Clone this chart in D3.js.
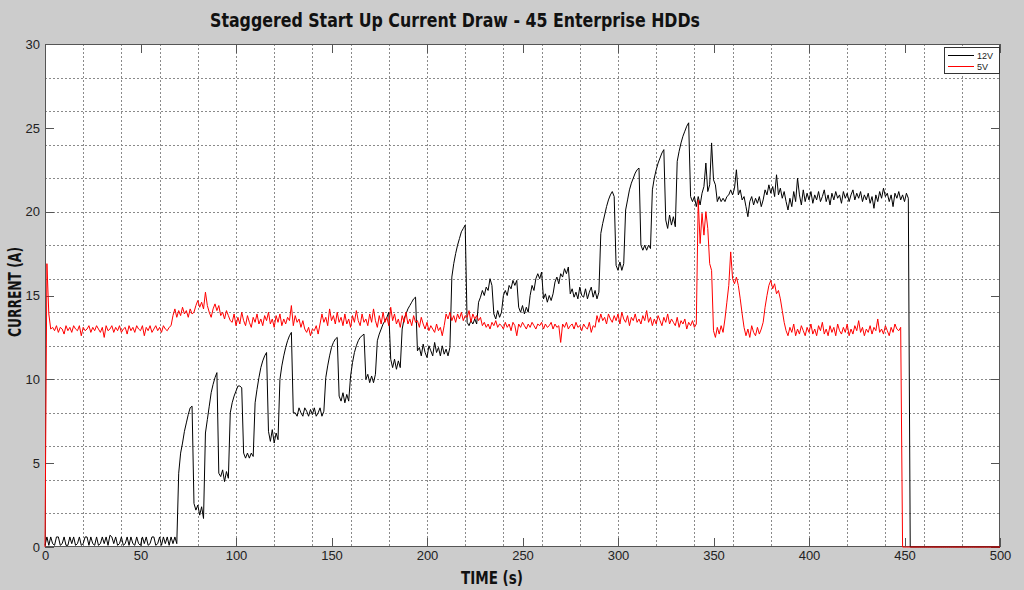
<!DOCTYPE html>
<html><head><meta charset="utf-8">
<script src="https://cdn.jsdelivr.net/npm/d3@7"></script>
<style>body{margin:0;background:#cccccc;} svg{display:block}</style>
</head><body><svg id="c" width="1024" height="590"></svg>
<script>
// ---------------- DATA ----------------
const chartTitle = "Staggered Start Up Current Draw - 45 Enterprise HDDs";
const xLabel = "TIME (s)";
const yLabel = "CURRENT (A)";
const xTickValues = [0,50,100,150,200,250,300,350,400,450,500];
const yTickValues = [0,5,10,15,20,25,30];
const seriesNames = ["12V","5V"];
const sampleStepSeconds = 1; // one reading per second, index = time (s)

// 12V rail current (A), t = 0..500 s
const current12V = [
// 0-69
0.1,0.6,0.1,0.6,0.2,0.1,0.6,0.6,0.1,0.2,
0.6,0.1,0.1,0.6,0.2,0.6,0.1,0.2,0.6,0.1,
0.2,0.6,0.6,0.1,0.6,0.2,0.1,0.6,0.1,0.2,
0.6,0.2,0.6,0.1,0.7,0.6,0.2,0.6,0.1,0.2,
0.6,0.1,0.2,0.6,0.1,0.6,0.2,0.1,0.6,0.2,
0.1,0.6,0.2,0.6,0.1,0.2,0.6,0.6,0.1,0.2,
0.6,0.1,0.6,0.2,0.6,0.1,0.6,0.2,0.6,0.2,
// 70-
4.4,5.6,6.2,6.9,7.4,7.9,8.3,8.4,2.6,2.2,
2.5,1.9,2.4,1.7,6.8,7.6,8.4,9.2,9.7,10.1,
10.4,4.4,4.2,4.6,3.9,4.5,4.1,8.0,8.6,9.0,
9.3,9.6,9.6,9.5,5.6,5.3,5.6,5.3,5.6,5.4,
8.6,9.4,10.1,10.7,11.1,11.4,11.6,6.9,6.3,7.0,
6.2,6.8,6.4,10.0,10.8,11.4,11.9,12.3,12.6,12.8,
8.0,8.0,7.8,8.3,8.0,7.8,8.3,8.1,7.8,8.2,
7.9,8.3,7.8,8.0,8.3,7.8,8.1,10.1,10.8,11.4,
11.9,12.2,12.4,12.5,9.0,8.7,9.2,8.6,9.1,8.7,
10.2,11.0,11.6,12.0,12.3,12.5,12.6,12.7,10.0,10.3,
9.8,10.2,9.8,10.3,12.3,12.7,13.0,13.3,13.5,13.7,
14.0,11.2,10.7,11.2,10.6,11.1,10.7,13.0,13.6,13.9,
14.2,14.4,14.6,14.8,14.9,11.7,11.9,11.4,12.1,11.6,
11.3,12.0,11.7,11.4,12.2,11.6,11.9,11.4,12.0,11.5,
11.8,11.4,11.9,16.1,16.9,17.5,18.0,18.4,18.8,19.0,
19.2,13.4,13.2,13.5,13.3,13.6,13.3,14.6,14.9,15.3,
15.0,15.5,15.3,16.0,15.6,13.9,13.6,14.1,13.7,14.0,
15.0,15.3,15.0,15.6,15.4,15.9,15.6,15.9,14.3,14.0,
14.4,13.9,14.3,14.0,15.0,15.6,15.3,16.0,16.3,16.0,
16.4,14.8,15.1,14.6,15.0,14.7,15.1,15.8,16.1,15.7,
16.3,16.1,16.6,16.3,16.7,15.1,15.4,14.9,15.2,14.8,
15.5,15.0,14.9,15.4,14.8,15.2,15.5,14.9,15.3,14.8,
15.2,18.7,19.3,19.8,20.3,20.7,21.0,21.2,20.9,16.8,
16.5,17.0,16.5,16.9,20.1,20.7,21.3,21.7,22.0,22.3,
22.5,22.6,18.0,17.7,18.0,17.7,18.0,17.8,21.3,22.0,
22.5,22.9,23.2,23.5,23.7,19.5,19.0,19.8,19.2,19.7,
19.1,23.0,23.6,24.1,24.5,24.8,25.1,25.3,20.9,20.6,
20.9,20.3,20.9,20.4,21.1,21.5,22.9,21.2,21.6,24.1,
21.9,21.6,20.6,20.9,20.6,20.8,20.6,20.9,21.0,21.3,
21.0,21.4,22.5,21.0,21.3,20.7,20.9,20.3,19.7,20.6,
20.9,20.4,20.8,20.5,20.9,20.3,20.7,21.3,21.0,21.6,
21.1,21.5,20.9,22.2,21.0,21.4,20.8,21.2,20.6,20.1,
20.8,20.3,21.2,20.6,22.0,21.0,20.4,21.3,20.6,21.1,
20.7,21.2,20.5,21.0,20.7,21.2,20.6,20.9,21.3,20.6,
21.0,20.4,21.1,20.7,21.2,20.8,21.0,20.5,21.2,20.8,
21.1,20.6,21.0,21.3,20.7,21.1,20.8,21.2,20.6,21.0,
20.7,21.1,20.5,20.9,20.2,21.0,20.6,21.2,20.8,21.4,
20.9,21.1,20.6,21.0,20.3,21.1,20.8,21.2,20.7,21.0,
20.6,21.1,20.8,0,0,0,0,0,0,0,
0,0,0,0,0,0,0,0,0,0,
0,0,0,0,0,0,0,0,0,0,
0,0,0,0,0,0,0,0,0,0,
0,0,0,0,0,0,0,0,0,0,
0
];

// 5V rail current (A), t = 0..500 s
const current5V = [
0,16.9,13.9,13.0,
13.1,12.9,13.2,12.8,13.1,13.0,12.7,13.2,12.9,13.1,
12.8,13.2,13.0,12.9,13.2,12.6,13.1,12.9,13.0,13.2,
12.8,13.1,12.9,13.2,13.0,12.8,13.1,12.5,13.2,12.9,
13.0,13.2,12.8,13.1,12.9,13.2,12.8,13.0,13.1,12.7,
13.2,12.9,13.1,12.8,13.2,13.0,12.9,13.2,12.6,13.1,
12.9,13.2,12.8,13.0,13.2,12.9,13.1,12.8,13.2,13.0,
12.9,13.1,13.2,
13.8,14.2,13.7,14.1,13.8,14.3,13.9,14.1,13.7,14.2,
13.9,14.0,14.4,14.7,14.3,14.6,14.2,15.2,14.4,14.0,
13.7,14.2,14.5,14.1,14.4,13.8,14.0,13.6,14.1,13.8,13.5,
13.4,13.9,13.2,13.7,13.3,14.0,13.5,13.2,13.8,13.4,
13.1,13.7,13.4,13.9,13.3,13.6,13.2,13.8,13.5,14.0,
13.3,13.6,13.1,13.8,13.4,13.9,13.2,13.6,13.3,13.7,
13.5,14.4,13.2,13.8,13.4,13.6,13.1,13.5,13.0,12.8,
13.1,12.6,13.0,12.9,13.2,12.7,13.3,13.9,13.4,13.7,
13.2,14.2,13.5,13.8,13.3,14.0,13.4,13.7,13.2,13.9,
13.3,13.6,13.1,13.8,13.4,14.1,13.5,13.2,13.9,13.4,
13.6,13.2,13.9,13.4,14.2,13.5,13.1,13.8,13.3,14.0,
13.4,13.7,13.2,14.3,13.5,13.9,13.3,13.6,13.1,13.8,
13.4,14.0,13.3,13.6,13.2,13.8,13.4,13.5,13.1,13.7,
13.3,13.0,13.4,12.9,13.2,13.0,12.8,13.3,12.9,13.1,12.6,13.2,
13.9,13.6,14.0,13.5,13.8,13.4,13.9,13.6,14.0,13.5,
13.8,13.7,14.1,13.4,13.9,13.6,13.8,13.5,13.7,
13.2,13.4,13.1,13.3,13.0,13.4,13.2,13.5,13.1,13.3,
13.2,13.0,13.4,13.1,13.3,12.9,13.4,13.2,12.6,13.3,
13.1,13.4,13.2,13.0,13.3,13.1,13.4,13.2,13.0,13.3,
13.2,13.4,13.0,13.3,13.1,13.2,13.4,13.0,13.3,13.1,
13.2,12.2,13.3,13.1,13.4,13.0,13.2,13.3,13.0,13.4,
13.1,13.2,12.9,13.3,13.1,13.0,13.4,12.8,13.2,13.1,
13.8,13.4,13.9,13.5,13.7,13.3,13.9,13.6,13.4,13.8,
13.5,13.9,13.3,14.0,13.6,13.4,13.8,13.2,13.7,13.5,
13.9,13.4,13.6,13.3,13.8,13.5,14.1,13.4,13.7,13.2,
13.6,13.3,13.8,13.5,13.2,13.7,13.4,13.9,13.3,13.6,
13.4,13.2,13.7,13.1,13.5,13.3,13.6,13.0,13.4,13.2,
13.5,13.1,13.3,
20.7,18.1,19.9,18.6,20.0,19.0,16.9,16.5,12.9,
12.5,13.1,12.7,13.2,12.8,
13.6,14.6,15.6,17.6,16.0,15.7,16.1,15.6,14.8,13.9,13.1,
12.6,13.0,12.5,13.2,12.8,12.6,13.1,12.7,13.0,
13.4,14.3,15.0,15.6,15.9,15.4,15.7,15.1,15.3,14.8,14.1,13.4,12.9,
12.6,13.1,12.8,13.3,12.6,13.0,12.7,13.2,12.9,12.6,
13.1,12.8,13.3,12.7,13.0,12.6,13.2,12.9,13.4,12.7,
13.0,12.6,13.2,12.8,13.1,12.6,13.3,12.9,12.7,13.1,
12.8,13.3,12.6,13.0,12.7,13.2,12.9,13.5,12.8,13.1,
12.6,13.0,12.8,13.2,12.7,13.1,12.9,13.6,12.8,13.0,
12.7,13.2,12.9,12.6,13.1,12.8,13.3,13.0,12.9,13.1,
0,0,0,0,0,0,0,0,0,0,
0,0,0,0,0,0,0,0,0,0,
0,0,0,0,0,0,0,0,0,0,
0,0,0,0,0,0,0,0,0,0,
0,0,0,0,0,0,0,0,0,0,
0,0
];

// ---------------- CHART ----------------
const svg = d3.select("#c");
const W = 1024, H = 590;
const m = {l:45, r:1000, t:44, b:547};
const x = d3.scaleLinear().domain([0,500]).range([m.l, m.r]);
const y = d3.scaleLinear().domain([0,30]).range([m.b, m.t]);

svg.append("rect").attr("width",W).attr("height",H).attr("fill","#cccccc");
svg.append("rect").attr("x",m.l).attr("y",m.t).attr("width",m.r-m.l).attr("height",m.b-m.t).attr("fill","#ffffff");

// dotted grid
const g = svg.append("g").attr("stroke","#8a8a8a").attr("stroke-width",1).attr("stroke-dasharray","2,2").attr("shape-rendering","crispEdges");
x.ticks(20).filter(v=>v>0&&v<500).forEach(v=>{
  g.append("line").attr("x1",Math.round(x(v))+0.5).attr("x2",Math.round(x(v))+0.5).attr("y1",m.t).attr("y2",m.b);
});
y.ticks(12).filter(v=>v>0&&v<30).forEach(v=>{
  g.append("line").attr("y1",Math.round(y(v))+0.5).attr("y2",Math.round(y(v))+0.5).attr("x1",m.l).attr("x2",m.r);
});

// axes
const tickLen = 9;
const axB = d3.axisBottom(x).tickValues(xTickValues).tickSizeInner(-tickLen).tickSizeOuter(0).tickPadding(4);
const axL = d3.axisLeft(y).tickValues(yTickValues).tickSizeInner(-tickLen).tickSizeOuter(0).tickPadding(5);
const axT = d3.axisTop(x).tickValues(xTickValues).tickSizeInner(-tickLen).tickSizeOuter(0).tickFormat("");
const axR = d3.axisRight(y).tickValues(yTickValues).tickSizeInner(-tickLen).tickSizeOuter(0).tickFormat("");
function style(sel){
  sel.select(".domain").remove();
  sel.selectAll("line").attr("stroke","#555").attr("shape-rendering","crispEdges");
  sel.selectAll("text").attr("fill","#222").style("font-family","'Liberation Sans', Arial, sans-serif").style("font-size","13px");
}
svg.append("g").attr("transform",`translate(0,${m.b})`).call(axB).call(style);
svg.append("g").attr("transform",`translate(${m.l},0)`).call(axL).call(style);
svg.append("g").attr("transform",`translate(0,${m.t})`).call(axT).call(style);
svg.append("g").attr("transform",`translate(${m.r},0)`).call(axR).call(style);

// border
svg.append("rect").attr("x",m.l+0.5).attr("y",m.t+0.5).attr("width",m.r-m.l-1).attr("height",m.b-m.t-1)
  .attr("fill","none").attr("stroke","#555").attr("stroke-width",1).attr("shape-rendering","crispEdges");

// series (drawn over the frame)
const line = d3.line().x((d,i)=>x(i*sampleStepSeconds)).y(d=>y(d));
svg.append("path").datum(current12V).attr("d",line).attr("fill","none").attr("stroke","#000").attr("stroke-width",1);
svg.append("path").datum(current5V).attr("d",line).attr("fill","none").attr("stroke","#ff0000").attr("stroke-width",1);

// title & labels
const boldFont = "'Liberation Sans Narrow', 'DejaVu Sans Condensed', Arial, sans-serif";
svg.append("text").attr("x",455).attr("y",27).attr("text-anchor","middle")
  .style("font-family",boldFont).style("font-weight","bold").style("font-size","20px")
  .attr("textLength",490).attr("lengthAdjust","spacingAndGlyphs").attr("fill","#111").text(chartTitle);
svg.append("text").attr("x",492).attr("y",584).attr("text-anchor","middle")
  .style("font-family",boldFont).style("font-weight","bold").style("font-size","17px")
  .attr("textLength",62).attr("lengthAdjust","spacingAndGlyphs").attr("fill","#111").text(xLabel);
svg.append("text").attr("transform","translate(21,292) rotate(-90)").attr("text-anchor","middle")
  .style("font-family",boldFont).style("font-weight","bold").style("font-size","17px")
  .attr("textLength",90).attr("lengthAdjust","spacingAndGlyphs").attr("fill","#111").text(yLabel);

// legend
const lg = svg.append("g");
lg.append("rect").attr("x",944.5).attr("y",47.5).attr("width",55).attr("height",26).attr("fill","#fff").attr("stroke","#333").attr("shape-rendering","crispEdges");
const legendColors = ["#000","#ff0000"];
seriesNames.forEach((n,i)=>{
  const yy = 55 + i*11;
  lg.append("line").attr("x1",948).attr("x2",974).attr("y1",yy+0.5).attr("y2",yy+0.5).attr("stroke",legendColors[i]).attr("stroke-width",1);
  lg.append("text").attr("x",977).attr("y",yy+3.5).style("font-family","'Liberation Sans', Arial, sans-serif").style("font-size","9px").attr("fill","#222").text(n);
});
</script>
</body></html>
